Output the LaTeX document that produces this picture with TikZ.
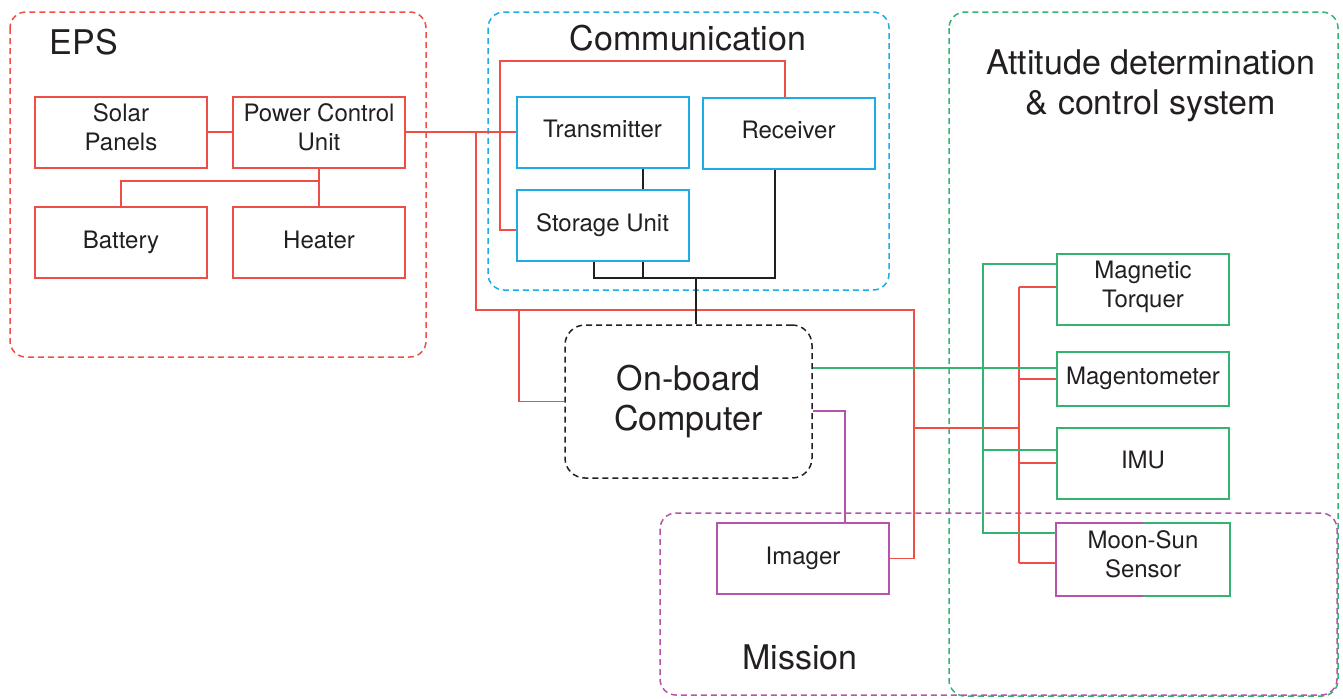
\documentclass[tikz,border=0pt]{standalone}
\usepackage{fontspec}
\setmainfont{TeX Gyre Heros}
\definecolor{epsred}{RGB}{238,78,70}
\definecolor{commblue}{RGB}{30,172,228}
\definecolor{adcsgreen}{RGB}{52,180,112}
\definecolor{missionpurple}{RGB}{182,84,172}
\definecolor{inkgray}{RGB}{35,31,32}
\begin{document}
\begin{tikzpicture}[x=0.5pt, y=-0.5pt,
  unit/.style={draw, line width=1pt, minimum width=86pt, minimum height=35.5pt, inner sep=0pt, align=center, text depth=5pt, text=inkgray, font=\fontsize{12}{14.5}\selectfont},
  oneline/.style={text height=9pt, text depth=3.5pt},
  group/.style={line width=0.75pt, dash pattern=on 3pt off 2pt, rounded corners=8pt},
  title/.style={text=inkgray, align=center, font=\fontsize{17}{20}\selectfont},
  wire/.style={line width=0.8pt}]
\useasboundingbox (0,0) rectangle (1343,698);

% group frames
\draw[group, epsred] (10,12) rectangle (426,357);
\draw[group, commblue] (488,12) rectangle (889,290);
\draw[group, adcsgreen] (949,12) rectangle (1338,696);
\draw[group, missionpurple] (660,513) rectangle (1337,695);
\node[title] (epsT) at (84,42) {EPS};
\node[title] (commT) at (688,38) {Communication};
\node[title] (adcsT) at (1151,86) {Attitude determination\\\& control system};
\node[title] (missionT) at (800,657) {Mission};

% EPS
\node[unit, draw=epsred] (solar) at (121,132) {Solar\\Panels};
\node[unit, draw=epsred] (pcu) at (319,132) {Power Control\\Unit};
\node[unit, oneline, draw=epsred] (battery) at (121,242.5) {Battery};
\node[unit, oneline, draw=epsred] (heater) at (319,242.5) {Heater};

% communication
\node[unit, oneline, draw=commblue] (tx) at (602.5,132) {Transmitter};
\node[unit, oneline, draw=commblue] (rx) at (788.5,133) {Receiver};
\node[unit, oneline, draw=commblue] (storage) at (602.5,225.5) {Storage Unit};

% computer and mission
\node[draw=inkgray, line width=0.75pt, dash pattern=on 3pt off 2pt, rounded corners=10pt, minimum width=123.5pt, minimum height=76.5pt, inner sep=0pt, title] (obc) at (688.5,401.5) {On-board\\Computer};
\node[unit, oneline, draw=missionpurple] (imager) at (803,558.5) {Imager};

% ADCS
\node[unit, draw=adcsgreen] (torquer) at (1143,289) {Magnetic\\Torquer};
\node[unit, oneline, draw=adcsgreen, minimum height=27pt] (magneto) at (1143,379) {Magentometer};
\node[unit, oneline, draw=adcsgreen] (imu) at (1143,463) {IMU};
\node[unit, draw=none] (moonsun) at (1143,559) {Moon-Sun\\Sensor};
\draw[line width=1pt, missionpurple] (moonsun.north) -| (moonsun.west) |- (moonsun.south);
\draw[line width=1pt, adcsgreen] (moonsun.north) -| (moonsun.east) |- (moonsun.south);

% power lines
\coordinate (epsjoin) at (319,181);
\coordinate (commbus) at (500,61);
\coordinate (pwrA) at (476,310);
\coordinate (pwrB) at (914,310);
\coordinate (obcjoin) at (519,310);
\coordinate (adcsR) at (1019,428);
\coordinate (redTop) at (1019,287);
\coordinate (redBot) at (1019,563);
\draw[wire, epsred] (solar) -- (pcu);
\draw[wire, epsred] (pcu) -- (heater);
\draw[wire, epsred] (battery.north) |- (epsjoin);
\draw[wire, epsred] (pcu) -- (tx);
\draw[wire, epsred] ([xshift=-1.75pt]rx.north) |- (commbus) |- ([yshift=-2.25pt]storage.west);
\draw[wire, epsred] (pcu.east -| pwrA) -- (pwrA) -- (pwrB) |- (imager.east);
\draw[wire, epsred] (obcjoin) |- (obc.west);
\draw[wire, epsred] (pwrB |- adcsR) -- (adcsR);
\draw[wire, epsred] (redTop) -- (redBot);
\draw[wire, epsred] (redTop) -- (redTop -| torquer.west);
\draw[wire, epsred] (magneto.west -| redTop) -- (magneto.west);
\draw[wire, epsred] (imu.west -| redTop) -- (imu.west);
\draw[wire, epsred] (redBot) -- (redBot -| moonsun.west);

% data lines
\coordinate (commjoin) at (696,277);
\coordinate (grnTop) at (983,264);
\coordinate (grnBot) at (983,533);
\coordinate (magG) at ([yshift=5.5pt]magneto.west);
\coordinate (imuG) at ([yshift=6.5pt]imu.west);
\draw[wire, inkgray] ([xshift=20.25pt]tx.south) -- ([xshift=20.25pt]storage.north);
\draw[wire, inkgray] ([xshift=-4.25pt]storage.south) -- ++(0,16) -| ([xshift=-6.75pt]rx.south);
\draw[wire, inkgray] ([xshift=20.25pt]storage.south) -- ++(0,16);
\draw[wire, inkgray] (commjoin) -- ([xshift=3.75pt]obc.north);
\draw[wire, adcsgreen] (obc.east |- magG) -- (magG);
\draw[wire, adcsgreen] (grnTop -| torquer.west) -- (grnTop) -- (grnBot) -- (grnBot -| moonsun.west);
\draw[wire, adcsgreen] (imuG -| grnTop) -- (imuG);
\draw[wire, missionpurple] ([yshift=-4.75pt]obc.east) -| ([xshift=21pt]imager.north);
\end{tikzpicture}
\end{document}
